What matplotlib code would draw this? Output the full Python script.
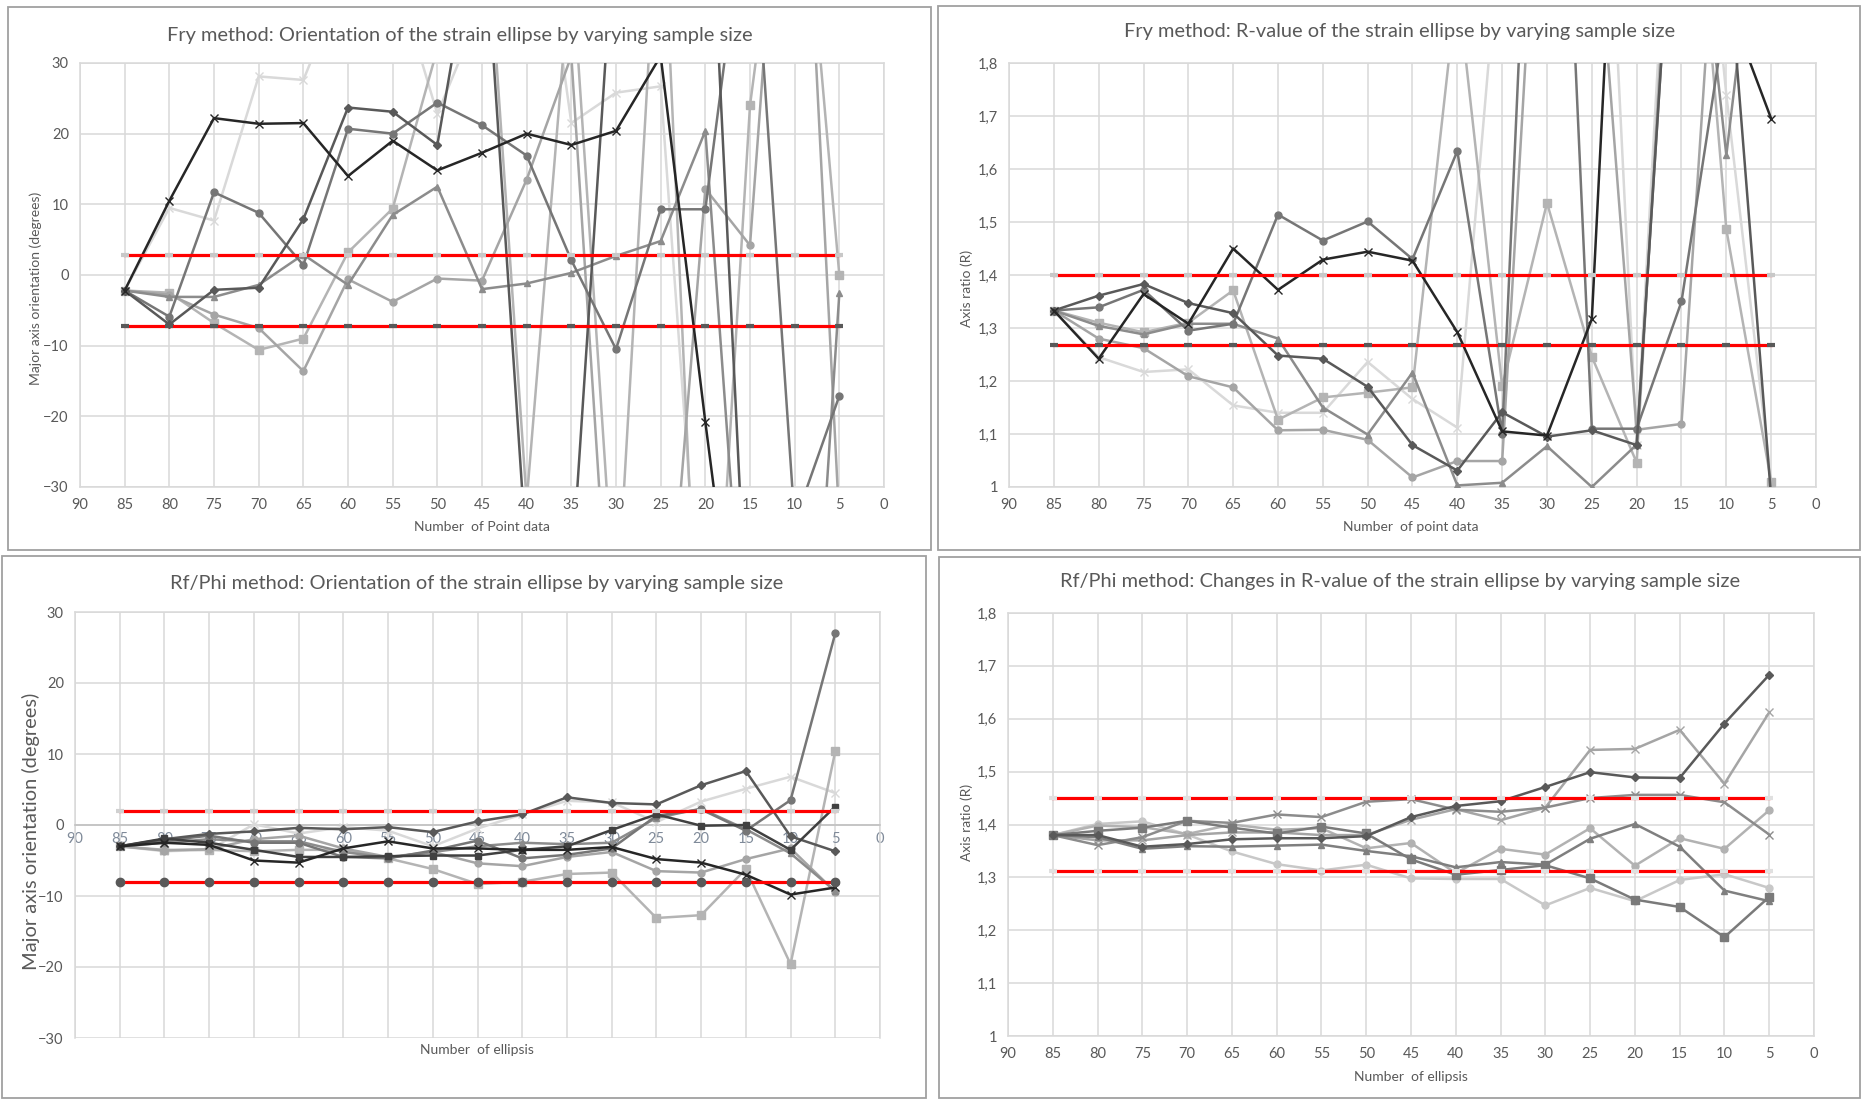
import numpy as np
import matplotlib
matplotlib.use('Agg')
import matplotlib.pyplot as plt
from matplotlib.patches import Rectangle
from matplotlib.ticker import FuncFormatter

plt.rcParams['font.family'] = ['Lato', 'DejaVu Sans']

# sample sizes (x axis, reversed)
sizes = [85, 80, 75, 70, 65, 60, 55, 50, 45, 40, 35, 30, 25, 20, 15, 10, 5]

# Fry method: orientation (degrees)
fo_black_x = [-2.2, 10.5, 22.2, 21.4, 21.5, 14.0, 19.0, 14.8, 17.3, 20.0, 18.4, 20.4, 31.0, -20.8, -70.0, -60.0, -75.0]
fo_diamond = [-2.2, -7.0, -2.1, -1.8, 7.9, 23.7, 23.1, 18.4, 55.0, -40.0, -43.0, 53.0, 80.0, 70.0, -60.0, -80.0, -90.0]
fo_circle = [-2.2, -5.9, 11.7, 8.8, 1.4, 20.7, 20.0, 24.4, 21.2, 16.9, 2.1, -10.5, 9.3, 9.3, 58.0, -35.0, -17.1]
fo_triangle = [-2.2, -3.1, -3.1, -1.4, 2.9, -1.4, 8.5, 12.5, -2.0, -1.2, 0.3, 2.7, 4.8, 20.4, -67.0, -100.0, -2.6]
fo_light_circle = [-2.2, -2.8, -5.6, -7.5, -13.6, -0.6, -3.8, -0.5, -0.8, 13.5, 31.0, -67.0, -65.0, 12.2, 4.2, 90.0, -35.0]
fo_square = [-2.2, -2.5, -6.8, -10.6, -9.0, 3.2, 9.4, 32.0, 60.0, -32.0, 45.0, -50.0, 60.0, -80.0, 24.0, 72.0, 0.0]
fo_light_x = [-2.2, 9.5, 7.7, 28.1, 27.6, 43.0, 44.0, 22.8, 38.0, 67.0, 21.5, 25.8, 26.7, -61.0, -90.0, -70.0, -50.0]
fo_upper, fo_lower = 2.8, -7.2

# Fry method: R-value
fr_black_x = [1.333, 1.242, 1.364, 1.308, 1.450, 1.372, 1.429, 1.444, 1.427, 1.292, 1.105, 1.097, 1.317, 3.0, 2.5, 1.92, 1.695]
fr_diamond = [1.333, 1.361, 1.383, 1.347, 1.328, 1.248, 1.242, 1.189, 1.079, 1.031, 1.141, 1.095, 1.107, 1.079, 2.4, 2.05, 0.98]
fr_circle = [1.333, 1.339, 1.372, 1.295, 1.308, 1.514, 1.465, 1.501, 1.430, 1.634, 1.100, 3.0, 1.110, 1.110, 1.350, 1.900, 2.200]
fr_triangle = [1.333, 1.304, 1.288, 1.308, 1.308, 1.280, 1.150, 1.099, 1.216, 1.003, 1.008, 1.077, 1.000, 1.080, 2.4, 1.626, 2.34]
fr_light_circle = [1.333, 1.280, 1.262, 1.209, 1.188, 1.107, 1.108, 1.089, 1.018, 1.049, 1.049, 2.5, 2.2, 1.108, 1.119, 2.4, 2.0]
fr_square = [1.333, 1.310, 1.292, 1.310, 1.371, 1.127, 1.169, 1.178, 1.188, 1.95, 1.190, 1.536, 1.246, 1.046, 2.5, 1.486, 1.01]
fr_light_x = [1.333, 1.245, 1.217, 1.222, 1.154, 1.140, 1.140, 1.236, 1.166, 1.112, 2.1, 2.6, 2.8, 1.08, 2.6, 1.74, 1.01]
fr_upper, fr_lower = 1.4, 1.267

# Rf/Phi method: orientation (degrees)
ro_diamond = [-3.0, -2.0, -1.25, -0.9, -0.4, -0.6, -0.3, -1.0, 0.5, 1.5, 3.9, 3.1, 2.9, 5.6, 7.6, -1.6, -3.7]
ro_light_x = [-3.0, -3.7, -3.5, 0.1, -1.2, -0.3, -0.8, -3.0, -0.5, 1.5, 3.4, 3.2, 0.4, 3.3, 5.1, 6.8, 4.5]
ro_dark_square = [-3.0, -1.9, -2.5, -3.5, -4.5, -4.5, -4.4, -4.3, -4.3, -3.5, -3.0, -0.7, 1.5, -0.1, 0.0, -3.5, 2.6]
ro_triangle = [-3.0, -2.5, -2.0, -2.3, -2.3, -3.8, -4.6, -3.8, -3.0, -2.5, -2.7, -2.5, 1.0, 2.3, -0.6, -4.0, -9.3]
ro_light_square = [-3.0, -3.5, -3.5, -3.7, -3.5, -3.5, -4.7, -6.2, -8.3, -8.0, -6.9, -6.7, -13.1, -12.7, -6.2, -19.6, 10.4]
ro_black_x = [-3.0, -2.5, -2.8, -5.0, -5.3, -3.3, -2.3, -3.3, -3.3, -3.5, -3.5, -3.1, -4.8, -5.3, -7.0, -9.8, -8.8]
ro_light_circle = [-3.0, -3.6, -3.4, -2.0, -1.5, -3.3, -4.5, -3.8, -5.4, -5.8, -4.5, -3.8, -6.5, -6.7, -4.8, -3.3, -9.4]
ro_circle = [-3.0, -2.2, -1.5, -2.5, -2.5, -4.5, -4.7, -3.6, -2.2, -4.7, -4.2, -3.3, 1.3, 2.2, -0.8, 3.5, 27.0]
ro_upper, ro_lower = 2.0, -8.0

# Rf/Phi method: R-value
rr_diamond = [1.38, 1.38, 1.358, 1.363, 1.372, 1.374, 1.374, 1.378, 1.414, 1.435, 1.444, 1.471, 1.499, 1.489, 1.488, 1.591, 1.683]
rr_gray_x = [1.38, 1.37, 1.37, 1.38, 1.385, 1.385, 1.38, 1.38, 1.409, 1.429, 1.408, 1.432, 1.541, 1.543, 1.579, 1.477, 1.612]
rr_mid_x = [1.38, 1.361, 1.376, 1.407, 1.403, 1.419, 1.414, 1.443, 1.448, 1.428, 1.424, 1.432, 1.450, 1.456, 1.456, 1.442, 1.381]
rr_light_circle = [1.38, 1.398, 1.395, 1.382, 1.40, 1.39, 1.393, 1.355, 1.365, 1.308, 1.354, 1.343, 1.393, 1.322, 1.374, 1.354, 1.427]
rr_triangle = [1.38, 1.376, 1.354, 1.359, 1.358, 1.36, 1.362, 1.35, 1.34, 1.319, 1.329, 1.324, 1.373, 1.401, 1.358, 1.275, 1.255]
rr_square = [1.38, 1.388, 1.394, 1.407, 1.394, 1.383, 1.396, 1.383, 1.334, 1.305, 1.314, 1.323, 1.298, 1.258, 1.244, 1.187, 1.263]
rr_pale_circle = [1.38, 1.401, 1.406, 1.381, 1.349, 1.325, 1.313, 1.324, 1.298, 1.297, 1.297, 1.247, 1.280, 1.255, 1.295, 1.306, 1.280]
rr_upper, rr_lower = 1.45, 1.312

W, H = 1861, 1099
TXT = '#595959'
fig = plt.figure(figsize=(W / 100, H / 100), dpi=100)


def box(l, t, r, b):
    return [l / W, 1 - b / H, (r - l) / W, (b - t) / H]


def frame(l, t, r, b):
    fig.add_artist(Rectangle((l / W, 1 - b / H), (r - l) / W, (b - t) / H,
                             transform=fig.transFigure, fill=False,
                             ec='#a0a0a0', lw=1.3))


def comma(v, pos):
    if abs(v - round(v)) < 1e-9:
        return str(int(round(v)))
    return f'{v:.1f}'.replace('.', ',')


def setup(ax, lo, hi, step, fmt=None):
    ax.set_xlim(90, 0)
    ax.set_ylim(lo, hi)
    ax.set_xticks(np.arange(0, 91, 5))
    ax.set_yticks(np.round(np.arange(lo, hi + step / 2, step), 2))
    ax.grid(True, color='#d9d9d9', lw=1.1)
    ax.set_axisbelow(True)
    for s in ax.spines.values():
        s.set_color('#d9d9d9')
        s.set_linewidth(1.1)
    ax.tick_params(length=0, labelsize=10.5, labelcolor=TXT, pad=8)
    if fmt:
        ax.yaxis.set_major_formatter(FuncFormatter(fmt))


def series(ax, vals, color, marker, ms=5):
    ax.plot(sizes, vals, color=color, lw=1.8, marker=marker, ms=ms,
            mfc=color, mec=color, zorder=3)


def red(ax, level, mcolor, marker='_', ms=6):
    ax.plot(sizes, [level] * len(sizes), color='#ff0000', lw=2.3,
            marker=marker, ms=ms, mew=3 if marker == '_' else 1,
            mfc=mcolor, mec=mcolor, zorder=4)


# ---- panel 1
ax1 = fig.add_axes(box(80, 63, 884, 487))
setup(ax1, -30, 30, 10)
series(ax1, fo_light_x, '#d9d9d9', 'x', 6)
series(ax1, fo_square, '#b4b4b4', 's', 5.5)
series(ax1, fo_light_circle, '#a5a5a5', 'o')
series(ax1, fo_triangle, '#8c8c8c', '^')
series(ax1, fo_circle, '#767676', 'o')
series(ax1, fo_diamond, '#595959', 'D', 4)
series(ax1, fo_black_x, '#262626', 'x', 6)
red(ax1, fo_upper, '#c8c8c8')
red(ax1, fo_lower, '#595959')

# ---- panel 2
ax2 = fig.add_axes(box(1009, 63, 1816, 487))
setup(ax2, 1.0, 1.8, 0.1, comma)
series(ax2, fr_light_x, '#d9d9d9', 'x', 6)
series(ax2, fr_square, '#b4b4b4', 's', 5.5)
series(ax2, fr_light_circle, '#a5a5a5', 'o')
series(ax2, fr_triangle, '#8c8c8c', '^')
series(ax2, fr_circle, '#767676', 'o')
series(ax2, fr_diamond, '#595959', 'D', 4)
series(ax2, fr_black_x, '#262626', 'x', 6)
red(ax2, fr_upper, '#c8c8c8')
red(ax2, fr_lower, '#595959')

# ---- panel 3
ax3 = fig.add_axes(box(75, 612, 880, 1038))
setup(ax3, -30, 30, 10)
ax3.spines['bottom'].set_position(('data', 0))
ax3.spines['bottom'].set_color('#bfbfbf')
ax3.tick_params(axis='x', labelcolor='#7f8a99', pad=5)
series(ax3, ro_light_x, '#d9d9d9', 'x', 6)
series(ax3, ro_light_square, '#b4b4b4', 's', 5.5)
series(ax3, ro_light_circle, '#a5a5a5', 'o')
series(ax3, ro_triangle, '#8c8c8c', '^')
series(ax3, ro_circle, '#767676', 'o')
series(ax3, ro_diamond, '#595959', 'D', 4)
series(ax3, ro_dark_square, '#404040', 's', 5)
series(ax3, ro_black_x, '#262626', 'x', 6)
red(ax3, ro_upper, '#d0d0d0')
red(ax3, ro_lower, '#595959', 'o', 6)

# ---- panel 4
ax4 = fig.add_axes(box(1008, 613, 1814, 1036))
setup(ax4, 1.0, 1.8, 0.1, comma)
series(ax4, rr_pale_circle, '#c8c8c8', 'o')
series(ax4, rr_light_circle, '#b2b2b2', 'o')
series(ax4, rr_gray_x, '#a5a5a5', 'x', 6)
series(ax4, rr_mid_x, '#8c8c8c', 'x', 6)
series(ax4, rr_triangle, '#7f7f7f', '^')
series(ax4, rr_square, '#7a7a7a', 's', 5.5)
series(ax4, rr_diamond, '#595959', 'D', 4)
red(ax4, rr_upper, '#e0e0e0')
red(ax4, rr_lower, '#e0e0e0')

# ---- frames and texts
frame(8, 7, 931, 550)
frame(938, 6, 1860, 550)
frame(2, 556, 926, 1098)
frame(939, 557, 1860, 1098)


def ftext(x, y, s, size, **kw):
    fig.text(x / W, 1 - y / H, s, ha='center', va='center', fontsize=size,
             color=TXT, **kw)


ftext(460, 36, 'Fry method: Orientation of the strain ellipse by varying sample size', 14.4)
ftext(1400, 32, 'Fry method: R-value of the strain ellipse by varying sample size', 14.4)
ftext(477, 583, 'Rf/Phi method: Orientation of the strain ellipse by varying sample size', 14.4)
ftext(1400, 582, 'Rf/Phi method: Changes in R-value of the strain ellipse by varying sample size', 14.4)

ftext(482, 527, 'Number  of Point data', 10)
ftext(1411, 527, 'Number  of point data', 10)
ftext(477, 1050, 'Number  of ellipsis', 10)
ftext(1411, 1077, 'Number  of ellipsis', 10)

ftext(36, 288, 'Major axis orientation (degrees)', 10, rotation=90)
ftext(967, 288, 'Axis ratio (R)', 10, rotation=90)
ftext(31, 831, 'Major axis orientation (degrees)', 14.4, rotation=90)
ftext(967, 822, 'Axis ratio (R)', 10, rotation=90)

fig.savefig('out.png', dpi=100, facecolor='white')
